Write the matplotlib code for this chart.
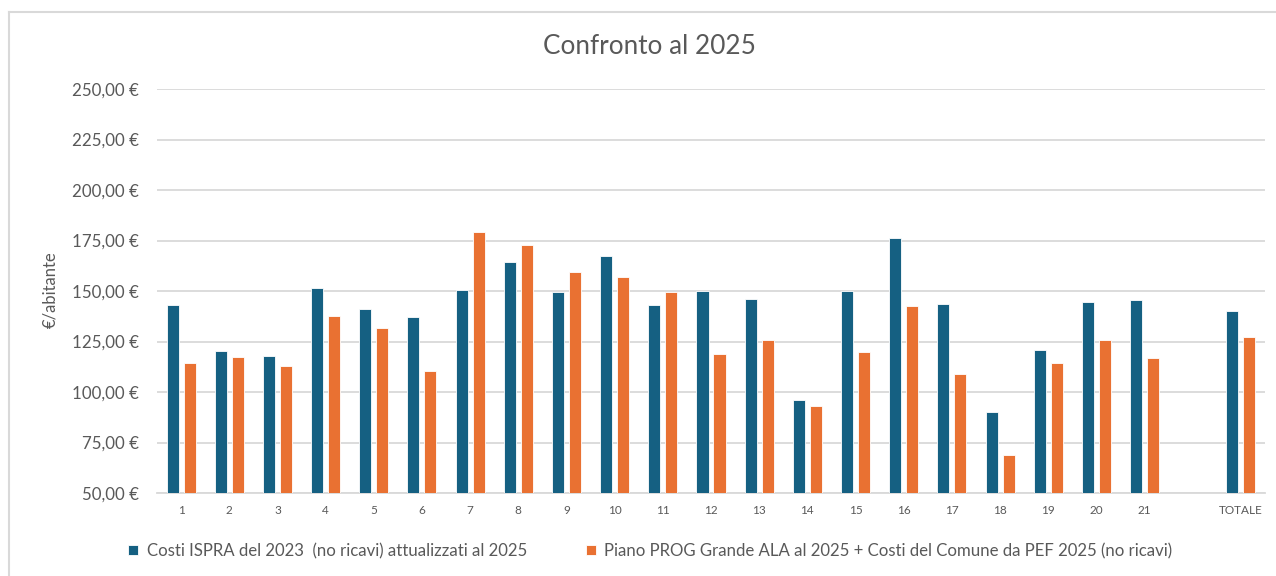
import matplotlib
matplotlib.use("Agg")
import matplotlib.pyplot as plt
from matplotlib.lines import Line2D
from matplotlib.ticker import FuncFormatter
import numpy as np

categories = ["1", "2", "3", "4", "5", "6", "7", "8", "9", "10", "11", "12", "13",
              "14", "15", "16", "17", "18", "19", "20", "21", "", "TOTALE"]
ispra = [143.3, 120.3, 117.8, 151.4, 141.0, 137.3, 150.4, 164.3, 149.4, 167.4, 143.0,
         149.9, 145.9, 95.8, 149.9, 176.3, 143.5, 89.9, 120.8, 144.4, 145.7, np.nan, 140.3]
piano = [114.3, 117.3, 112.8, 137.8, 131.8, 110.4, 179.3, 172.9, 159.3, 156.8, 149.4,
         118.8, 125.9, 92.9, 119.8, 142.5, 108.7, 68.7, 114.3, 125.9, 116.8, np.nan, 127.2]
series_names = ["Costi ISPRA del 2023  (no ricavi) attualizzati al 2025",
                "Piano PROG Grande ALA al 2025 + Costi del Comune da PEF 2025 (no ricavi)"]
title = "Confronto al 2025"
ylabel = "€/abitante"

BLUE = "#156082"
ORANGE = "#E97132"
GRID = "#D9D9D9"
TXT = "#595959"

plt.rcParams['font.family'] = ['Lato', 'DejaVu Sans']

fig = plt.figure(figsize=(12.76, 5.76), dpi=100)
W, H = 1276, 576
ax = fig.add_axes([157 / W, 1 - 493 / H, (1265 - 157) / W, (493 - 89) / H])

x = np.arange(len(categories))
bw = 0.25
off = 0.176
ax.bar(x - off, ispra, width=bw, color=BLUE, edgecolor="white", linewidth=0.6,
       label=series_names[0], zorder=3)
ax.bar(x + off, piano, width=bw, color=ORANGE, edgecolor="white", linewidth=0.6,
       label=series_names[1], zorder=3)

ax.set_ylim(50, 250)
ax.set_xlim(-0.5, len(categories) - 0.5)
ax.set_yticks(np.arange(50, 251, 25))
ax.yaxis.set_major_formatter(FuncFormatter(lambda v, p: f"{v:.2f}".replace(".", ",") + " €"))
ax.set_xticks(x)
ax.set_xticklabels(categories)
ax.grid(axis="y", color=GRID, linewidth=1.3, zorder=0)
for s in ["top", "right", "left"]:
    ax.spines[s].set_visible(False)
ax.spines["bottom"].set_color(GRID)
ax.spines["bottom"].set_linewidth(1.3)
ax.tick_params(axis="y", length=0, pad=13, labelsize=12.2, labelcolor=TXT)
ax.tick_params(axis="x", length=0, pad=9, labelsize=8.5, labelcolor=TXT)

fig.text(50 / W, 1 - 290 / H, ylabel, rotation=90, ha="center", va="center",
         fontsize=12, color=TXT)
fig.text(649 / W, 1 - 46 / H, title, ha="center", va="center", fontsize=18.8, color=TXT)

# chart frame
fig.add_artist(Line2D([8.5 / W, 8.5 / W], [0, 1 - 11.5 / H], color=GRID, linewidth=1.5))
fig.add_artist(Line2D([8.5 / W, 1], [1 - 11.5 / H, 1 - 11.5 / H], color=GRID, linewidth=1.5))

leg = fig.legend(loc="center left", bbox_to_anchor=(113 / W, 1 - 551 / H), ncol=2,
                 frameon=False, fontsize=12.1, handlelength=0.6, handleheight=0.6,
                 handletextpad=0.5, columnspacing=3.5, labelcolor=TXT)

fig.savefig("out.png", dpi=100, facecolor="white")
